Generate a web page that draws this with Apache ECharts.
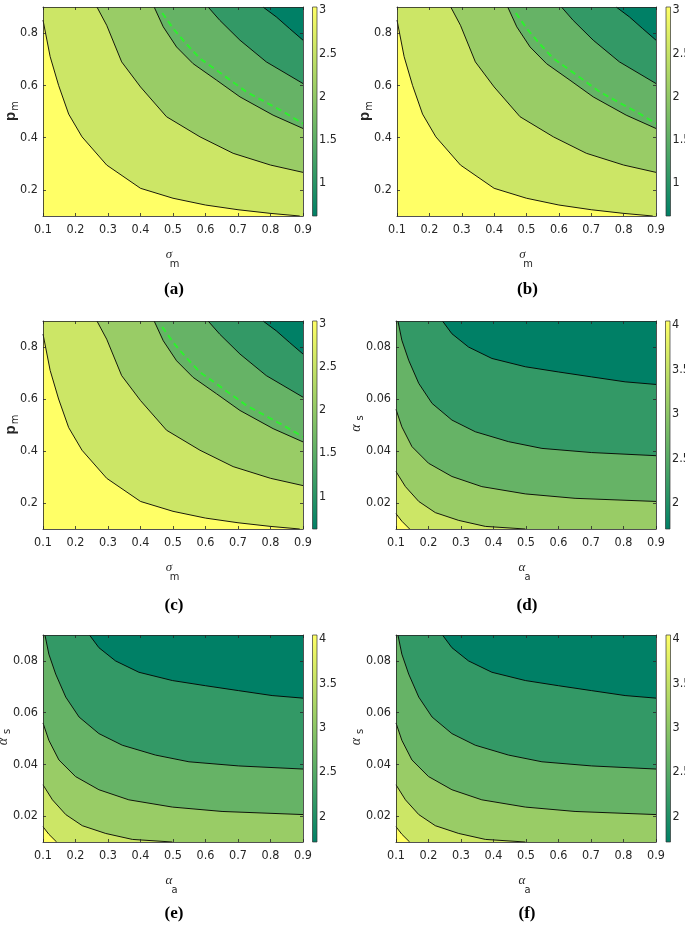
<!DOCTYPE html>
<html><head><meta charset="utf-8">
<script src="https://cdn.jsdelivr.net/npm/echarts@6/dist/echarts.min.js"></script>
<style>html,body{margin:0;padding:0;background:#fff}#c{width:685px;height:926px}</style>
</head><body><div id="c"></div>
<script>
// ---------- tick values ----------
const xTicks = [0.1, 0.2, 0.3, 0.4, 0.5, 0.6, 0.7, 0.8, 0.9];
const yTicksPm = [0.2, 0.4, 0.6, 0.8];
const yTicksAs = [0.02, 0.04, 0.06, 0.08];
const cbTicksPm = [1, 1.5, 2, 2.5, 3];
const cbTicksAs = [2, 2.5, 3, 3.5, 4];
const cbRangePm = [0.62, 3.035];
const cbRangeAs = [1.71, 4.045];
const xRange = [0.1, 0.9];
const yRangePm = [0.1, 0.9];
const yRangeAs = [0.01, 0.09];

// ---------- contour lines, sigma_m vs p_m (panels a, b, c) ----------
const pmC1 = [[0.1,0.85],[0.122,0.71],[0.148,0.6],[0.179,0.49],[0.22,0.403],[0.296,0.295],[0.4,0.206],[0.5,0.168],[0.6,0.142],[0.7,0.124],[0.8,0.11],[0.89,0.1]];
const pmC2 = [[0.266,0.9],[0.296,0.83],[0.342,0.69],[0.4,0.594],[0.48,0.48],[0.583,0.403],[0.685,0.34],[0.8,0.295],[0.9,0.267]];
const pmC3 = [[0.442,0.9],[0.47,0.824],[0.511,0.747],[0.562,0.683],[0.634,0.62],[0.706,0.556],[0.808,0.486],[0.9,0.435]];
const pmC4 = [[0.608,0.9],[0.644,0.849],[0.706,0.773],[0.787,0.69],[0.9,0.607]];
const pmC5 = [[0.777,0.9],[0.818,0.862],[0.859,0.817],[0.9,0.773]];
const pmDashed = [[0.467,0.877],[0.501,0.817],[0.54,0.76],[0.583,0.703],[0.634,0.658],[0.726,0.575],[0.839,0.499],[0.9,0.454]];

// ---------- contour lines, alpha_a vs alpha_s (panels d, e, f) ----------
const asC1 = [[0.1,0.0159],[0.118,0.013],[0.142,0.01]];
const asC2 = [[0.1,0.0321],[0.129,0.0263],[0.17,0.0206],[0.221,0.0163],[0.293,0.0133],[0.375,0.011],[0.498,0.01]];
const asC3 = [[0.1,0.056],[0.118,0.0493],[0.149,0.0417],[0.2,0.0353],[0.272,0.0302],[0.364,0.0263],[0.498,0.0235],[0.651,0.0218],[0.9,0.0206]];
const asC4 = [[0.106,0.09],[0.118,0.0826],[0.139,0.0749],[0.17,0.066],[0.211,0.0583],[0.272,0.0519],[0.344,0.0474],[0.446,0.0436],[0.549,0.041],[0.702,0.0394],[0.9,0.0382]];
const asC5 = [[0.243,0.09],[0.272,0.0851],[0.323,0.08],[0.395,0.0756],[0.498,0.0724],[0.6,0.0704],[0.702,0.0685],[0.805,0.0666],[0.9,0.0656]];

const captions = ['(a)', '(b)', '(c)', '(d)', '(e)', '(f)'];

// ---------- layout ----------
const pmPanel = { yRange: yRangePm, yTicks: yTicksPm, yDec: 1, contours: [pmC1, pmC2, pmC3, pmC4, pmC5], dashed: pmDashed, cbRange: cbRangePm, cbTicks: cbTicksPm, xName: 'σ', xSub: 'm', yName: 'p', ySub: 'm' };
const asPanel = { yRange: yRangeAs, yTicks: yTicksAs, yDec: 2, contours: [asC1, asC2, asC3, asC4, asC5], dashed: null, cbRange: cbRangeAs, cbTicks: cbTicksAs, xName: 'α', xSub: 'a', yName: 'α', ySub: 's' };
const panels = [
  Object.assign({ grid: [43, 7, 260, 209], cb: [312.5, 7, 4.5, 209], capY: 290 }, pmPanel),
  Object.assign({ grid: [397, 7, 259, 209], cb: [666, 7, 4.5, 209], capY: 290 }, pmPanel),
  Object.assign({ grid: [43, 321, 260, 208], cb: [312.5, 321, 4.5, 208], capY: 606 }, pmPanel),
  Object.assign({ grid: [396, 321, 260, 208], cb: [665.5, 321, 4.5, 208], capY: 606 }, asPanel),
  Object.assign({ grid: [43, 635, 260, 207], cb: [312.5, 635, 4.5, 207], capY: 914 }, asPanel),
  Object.assign({ grid: [396, 635, 260, 207], cb: [666, 635, 4.5, 207], capY: 914 }, asPanel)
];

// MATLAB "summer" colormap
function colorAt(t) {
  const r = Math.round(255 * t), g = Math.round(127.5 + 127.5 * t), b = 102;
  return 'rgb(' + r + ',' + g + ',' + b + ')';
}

const TICKFONT = "'Liberation Sans Narrow','DejaVu Sans Condensed','Arial Narrow',sans-serif";
const TXT = '#262626';
const grids = [], xAxes = [], yAxes = [], series = [], graphics = [];
const center = { textAlign: 'center', textVerticalAlign: 'middle', align: 'center', verticalAlign: 'middle' };

panels.forEach((p, i) => {
  const [gl, gt, gw, gh] = p.grid;
  grids.push({ left: gl, top: gt, width: gw, height: gh, containLabel: false, outerBoundsMode: 'none' });
  grids.push({ left: p.cb[0], top: p.cb[1], width: p.cb[2], height: p.cb[3], containLabel: false, outerBoundsMode: 'none' });
  const gMain = 2 * i, gCb = 2 * i + 1;
  const axLine = { show: true, lineStyle: { color: '#262626', width: 0.8 } };
  const tick = (vals) => ({ show: true, inside: true, length: 3, customValues: vals, lineStyle: { color: '#262626', width: 0.8 } });
  const xb = xAxes.length;
  xAxes.push({ type: 'value', gridIndex: gMain, min: xRange[0], max: xRange[1], position: 'bottom', z: 10,
    axisLine: axLine, axisTick: tick(xTicks), splitLine: { show: false },
    axisLabel: { customValues: xTicks, formatter: v => v.toFixed(1), fontFamily: TICKFONT, fontSize: 12.5, color: TXT, margin: 7 } });
  xAxes.push({ type: 'value', gridIndex: gMain, min: xRange[0], max: xRange[1], position: 'top', z: 10,
    axisLine: axLine, axisTick: tick(xTicks), splitLine: { show: false }, axisLabel: { show: false } });
  xAxes.push({ type: 'value', gridIndex: gCb, min: 0, max: 1, show: false });
  const yb = yAxes.length;
  yAxes.push({ type: 'value', gridIndex: gMain, min: p.yRange[0], max: p.yRange[1], position: 'left', z: 10,
    axisLine: axLine, axisTick: tick(p.yTicks), splitLine: { show: false },
    axisLabel: { customValues: p.yTicks, formatter: v => v.toFixed(p.yDec), fontFamily: TICKFONT, fontSize: 12.5, color: TXT, margin: 5 } });
  yAxes.push({ type: 'value', gridIndex: gMain, min: p.yRange[0], max: p.yRange[1], position: 'right', z: 10,
    axisLine: axLine, axisTick: tick(p.yTicks), splitLine: { show: false }, axisLabel: { show: false } });
  yAxes.push({ type: 'value', gridIndex: gCb, min: p.cbRange[0], max: p.cbRange[1], position: 'right', z: 10,
    axisLine: { show: false }, axisTick: { show: false }, splitLine: { show: false },
    axisLabel: { customValues: p.cbTicks, formatter: v => String(v), fontFamily: TICKFONT, fontSize: 12.5, color: TXT, margin: 2 } });

  // filled contour regions
  const xs = xRange, ys = p.yRange;
  const regions = [{ pts: [[xs[0], ys[0]], [xs[1], ys[0]], [xs[1], ys[1]], [xs[0], ys[1]]], t: 0 }];
  const n = p.contours.length;
  for (let k = n - 1; k >= 0; k--) {
    const c = p.contours[k];
    const pts = c.slice();
    const first = c[0], last = c[c.length - 1];
    if (last[0] >= xs[1]) pts.push([xs[1], ys[0]]);
    pts.push([xs[0], ys[0]]);
    if (first[1] >= ys[1]) pts.push([xs[0], ys[1]]);
    regions.push({ pts: pts, t: (n - k) / n });
  }
  series.push({
    type: 'custom', xAxisIndex: xb, yAxisIndex: yb, clip: true, silent: true, animation: false, z: 1,
    data: regions.map(() => [xs[0], ys[0]]),
    renderItem: (params, api) => {
      const r = regions[params.dataIndex];
      return { type: 'polygon', shape: { points: r.pts.map(q => api.coord(q)) }, style: { fill: colorAt(r.t), stroke: colorAt(r.t), lineWidth: 0.3 } };
    }
  });
  p.contours.forEach(c => {
    series.push({ type: 'line', xAxisIndex: xb, yAxisIndex: yb, data: c, showSymbol: false, symbol: 'none', silent: true, animation: false, z: 3,
      lineStyle: { color: '#000', width: 0.9 } });
  });
  if (p.dashed) {
    series.push({ type: 'line', xAxisIndex: xb, yAxisIndex: yb, data: p.dashed, showSymbol: false, symbol: 'none', silent: true, animation: false, z: 4,
      lineStyle: { color: '#2EF02E', width: 2, type: [6, 4] } });
  }
  // colorbar
  const cbr = p.cbRange;
  series.push({
    type: 'custom', xAxisIndex: xb + 2, yAxisIndex: yb + 2, silent: true, animation: false, z: 1,
    data: [[0, cbr[0]]],
    renderItem: (params, api) => {
      const a = api.coord([0, cbr[1]]), b = api.coord([1, cbr[0]]);
      return { type: 'rect', shape: { x: a[0], y: a[1], width: b[0] - a[0], height: b[1] - a[1] },
        style: { fill: new echarts.graphic.LinearGradient(0, 0, 0, 1, [{ offset: 0, color: colorAt(1) }, { offset: 1, color: colorAt(0) }]), stroke: '#333', lineWidth: 0.7 } };
    }
  });

  // axis names & caption
  const cx = gl + gw / 2, cy = gt + gh / 2, bottom = gt + gh;
  const isSigma = p.xName === 'σ';
  graphics.push({ type: 'text', x: cx - 4, y: bottom + 39, style: Object.assign({ text: p.xName, fill: TXT, font: 'italic 13px "Liberation Serif"' }, center) });
  graphics.push({ type: 'text', x: cx + 1.5, y: bottom + 48, style: Object.assign({ text: p.xSub, fill: TXT, font: '11px ' + TICKFONT }, center) });
  if (isSigma) {
    graphics.push({ type: 'text', x: gl - 32, y: cy + 5, rotation: Math.PI / 2, style: Object.assign({ text: p.yName, fill: TXT, font: 'bold 15px "Liberation Sans"' }, center) });
    graphics.push({ type: 'text', x: gl - 28, y: cy - 5.5, rotation: Math.PI / 2, style: Object.assign({ text: p.ySub, fill: TXT, font: '11px ' + TICKFONT }, center) });
  } else {
    graphics.push({ type: 'text', x: gl - 40, y: cy + 3, rotation: Math.PI / 2, style: Object.assign({ text: p.yName, fill: TXT, font: 'italic 14px "Liberation Serif"' }, center) });
    graphics.push({ type: 'text', x: gl - 36, y: cy - 7, rotation: Math.PI / 2, style: Object.assign({ text: p.ySub, fill: TXT, font: '11px ' + TICKFONT }, center) });
  }
  graphics.push({ type: 'text', x: cx + 1, y: p.capY, style: Object.assign({ text: captions[i], fill: '#000', font: 'bold 17px "Liberation Serif"' }, center) });
});

const chart = echarts.init(document.getElementById('c'), null, { renderer: 'canvas' });
chart.setOption({
  animation: false,
  backgroundColor: '#fff',
  grid: grids, xAxis: xAxes, yAxis: yAxes, series: series, graphic: graphics
});
</script></body></html>
